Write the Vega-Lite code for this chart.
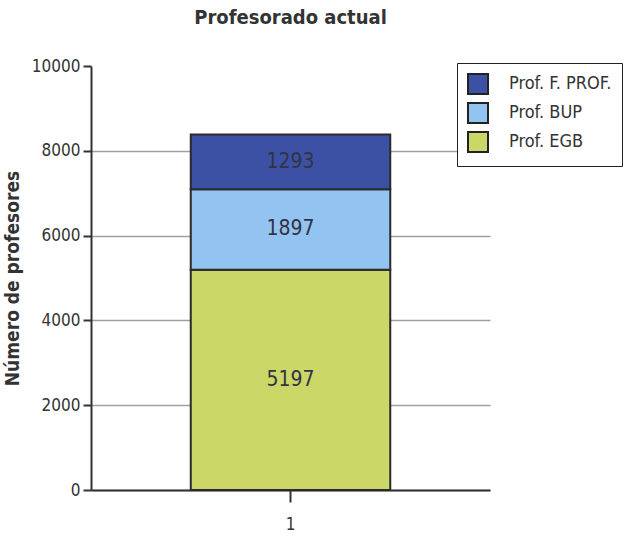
{
  "$schema": "https://vega.github.io/schema/vega-lite/v6.json",
  "width": 399,
  "height": 424,
  "autosize": "none",
  "padding": {"left": 91, "top": 66, "right": 152, "bottom": 44},
  "background": "white",
  "title": {
    "text": "Profesorado actual",
    "font": "DejaVu Sans Condensed",
    "fontSize": 20,
    "fontWeight": "bold",
    "color": "#333333",
    "anchor": "middle",
    "offset": 29
  },
  "data": {
    "values": [
      {"grupo": "1", "cat": "Prof. EGB", "value": 5197, "orden": 1},
      {"grupo": "1", "cat": "Prof. BUP", "value": 1897, "orden": 2},
      {"grupo": "1", "cat": "Prof. F. PROF.", "value": 1293, "orden": 3}
    ]
  },
  "encoding": {
    "x": {
      "field": "grupo",
      "type": "nominal",
      "scale": {"paddingInner": 0, "paddingOuter": 0.5},
      "axis": {
        "title": null,
        "labelAngle": 0,
        "tickSize": 12,
        "labelPadding": 14,
        "grid": false
      }
    }
  },
  "layer": [
    {
      "transform": [
        {"stack": "value", "groupby": ["grupo"], "sort": [{"field": "orden", "order": "ascending"}], "as": ["y0", "y1"]}
      ],
      "mark": {"type": "bar", "stroke": "#2a2a2a", "strokeWidth": 2},
      "encoding": {
        "y": {
          "field": "y1",
          "type": "quantitative",
          "title": "Número de profesores",
          "scale": {"domain": [0, 10000]},
          "axis": {
            "values": [0, 2000, 4000, 6000, 8000, 10000],
            "tickSize": 8,
            "labelPadding": 3,
            "titlePadding": 9,
            "titleFont": "DejaVu Sans Condensed",
            "titleFontSize": 19,
            "titleFontWeight": "bold",
            "titleColor": "#333333",
            "format": "d",
            "gridOpacity": {"condition": {"test": "datum.value >= 10000", "value": 0}, "value": 1}
          }
        },
        "y2": {"field": "y0"},
        "color": {
          "field": "cat",
          "type": "nominal",
          "scale": {
            "domain": ["Prof. F. PROF.", "Prof. BUP", "Prof. EGB"],
            "range": ["#3c51a3", "#93c3f0", "#cbd867"]
          },
          "legend": {
            "title": null,
            "orient": "none",
            "legendX": 366,
            "legendY": -3,
            "strokeColor": "#222222",
            "fillColor": "white",
            "padding": 10,
            "symbolType": "square",
            "symbolSize": 400,
            "symbolStrokeColor": "#222222",
            "symbolStrokeWidth": 2,
            "symbolOpacity": 1,
            "labelFont": "DejaVu Sans Condensed",
            "labelFontSize": 18,
            "labelColor": "#333333",
            "labelOffset": 20,
            "labelLimit": 200,
            "rowPadding": 1
          }
        }
      }
    },
    {
      "transform": [
        {"stack": "value", "groupby": ["grupo"], "sort": [{"field": "orden", "order": "ascending"}], "as": ["y0", "y1"]},
        {"fold": ["y0", "y1"], "as": ["lim", "pos"]},
        {"aggregate": [{"op": "mean", "field": "pos", "as": "mid"}], "groupby": ["grupo", "cat", "value"]}
      ],
      "mark": {"type": "text", "font": "DejaVu Sans Condensed", "fontSize": 21, "color": "#333344", "baseline": "middle"},
      "encoding": {
        "y": {"field": "mid", "type": "quantitative", "title": "Número de profesores"},
        "text": {"field": "value", "type": "quantitative", "format": "d"}
      }
    }
  ],
  "config": {
    "view": {"stroke": null},
    "axis": {
      "domainColor": "#333333",
      "domainWidth": 2,
      "tickColor": "#333333",
      "tickWidth": 2,
      "gridColor": "#a0a0a0",
      "gridWidth": 1.5,
      "labelFont": "DejaVu Sans Condensed",
      "labelFontSize": 17,
      "labelColor": "#333333"
    }
  }
}
